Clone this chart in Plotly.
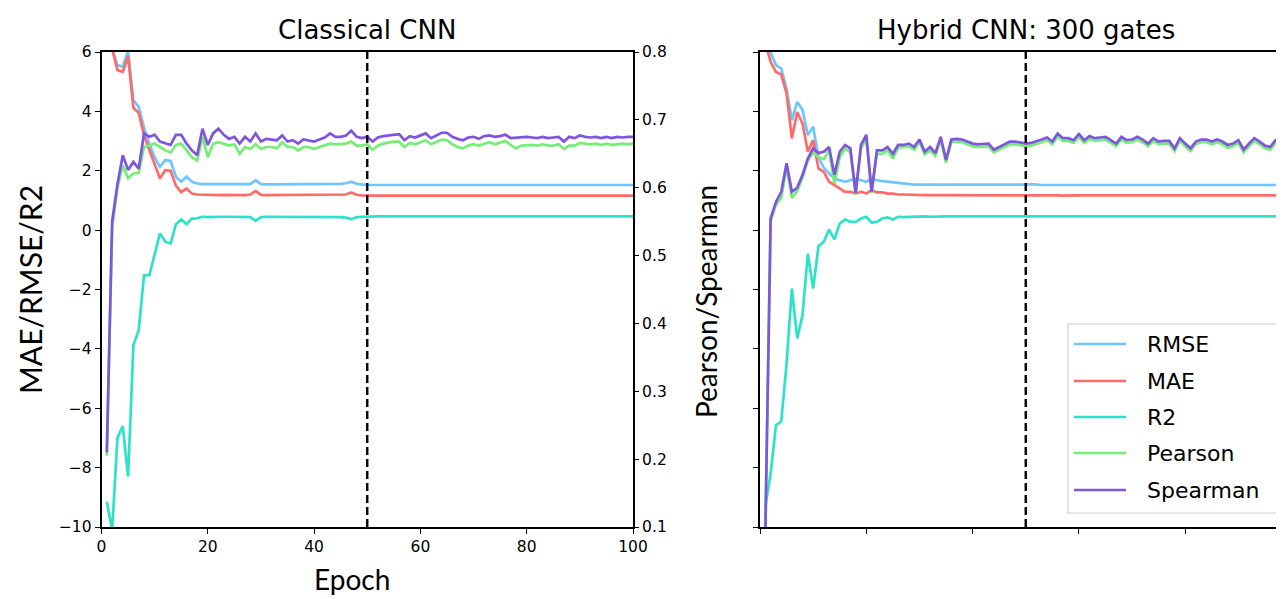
import plotly.graph_objects as go

# ---------------- data ----------------
EPOCHS = list(range(1, 101))
CHECKPOINT_EPOCH = 50
SERIES_NAMES = ["RMSE", "MAE", "R2", "Pearson", "Spearman"]
SERIES_COLORS = ["#6fc6ff", "#ff6b6b", "#2de2c8", "#74ee74", "#7f55e0"]
PANEL_TITLES = ["Classical CNN", "Hybrid CNN: 300 gates"]
LEFT_TICKS = [-10, -8, -6, -4, -2, 0, 2, 4, 6]
RIGHT_TICKS = [0.1, 0.2, 0.3, 0.4, 0.5, 0.6, 0.7, 0.8]
RIGHT_TICK_LABELS = ["0.1", "0.2", "0.3", "0.4", "0.5", "0.6", "0.7", "0.8"]
X_TICKS = [0, 20, 40, 60, 80, 100]

# Classical CNN
c_rmse = [7.2, 6.1, 5.56, 5.5, 6.05, 4.38, 4.15, 3.45, 2.9, 2.45,
          2.13, 2.36, 2.33, 1.8, 1.63, 1.8, 1.63, 1.57, 1.55, 1.55,
          1.54, 1.55, 1.54, 1.54, 1.54, 1.55, 1.54, 1.55, 1.68, 1.55,
          1.54, 1.54, 1.54, 1.55, 1.54, 1.54, 1.54, 1.55, 1.54, 1.54,
          1.54, 1.54, 1.54, 1.55, 1.56, 1.58, 1.63, 1.56, 1.53, 1.52,
          1.52, 1.52, 1.52, 1.53, 1.52, 1.52, 1.52, 1.53, 1.52, 1.52,
          1.52, 1.52, 1.53, 1.52, 1.52, 1.52, 1.52, 1.52, 1.53, 1.52,
          1.52, 1.52, 1.52, 1.52, 1.53, 1.52, 1.52, 1.52, 1.52, 1.52,
          1.53, 1.52, 1.52, 1.52, 1.52, 1.53, 1.52, 1.52, 1.52, 1.52,
          1.52, 1.52, 1.53, 1.52, 1.52, 1.52, 1.52, 1.52, 1.52, 1.52]
c_mae = [7.6, 6.1, 5.39, 5.33, 5.85, 4.12, 3.95, 3.2, 2.7, 2.2,
         1.74, 2.02, 2.0, 1.5, 1.28, 1.4, 1.23, 1.2, 1.19, 1.18,
         1.18, 1.18, 1.19, 1.18, 1.18, 1.18, 1.18, 1.2, 1.32, 1.19,
         1.18, 1.18, 1.18, 1.18, 1.18, 1.18, 1.18, 1.18, 1.18, 1.18,
         1.18, 1.18, 1.18, 1.18, 1.19, 1.2, 1.27, 1.19, 1.17, 1.16,
         1.16, 1.16, 1.16, 1.17, 1.16, 1.16, 1.16, 1.16, 1.17, 1.16,
         1.16, 1.16, 1.16, 1.16, 1.17, 1.16, 1.16, 1.16, 1.16, 1.16,
         1.17, 1.16, 1.16, 1.16, 1.16, 1.16, 1.17, 1.16, 1.16, 1.16,
         1.16, 1.16, 1.16, 1.17, 1.16, 1.16, 1.16, 1.16, 1.16, 1.16,
         1.17, 1.16, 1.16, 1.16, 1.16, 1.16, 1.16, 1.16, 1.16, 1.16]
c_r2 = [-9.15, -10.1, -7.0, -6.6, -8.3, -3.87, -3.37, -1.52, -1.52, -0.79,
        -0.11, -0.39, -0.45, 0.2, 0.36, 0.2, 0.39, 0.4, 0.45, 0.44,
        0.45, 0.46, 0.45, 0.45, 0.45, 0.46, 0.45, 0.44, 0.31, 0.44,
        0.45, 0.45, 0.46, 0.45, 0.45, 0.45, 0.45, 0.45, 0.46, 0.45,
        0.45, 0.45, 0.45, 0.45, 0.44, 0.42, 0.37, 0.44, 0.45, 0.46,
        0.46, 0.46, 0.46, 0.45, 0.46, 0.46, 0.46, 0.46, 0.45, 0.46,
        0.46, 0.46, 0.46, 0.46, 0.45, 0.46, 0.46, 0.46, 0.46, 0.46,
        0.45, 0.46, 0.46, 0.46, 0.46, 0.46, 0.45, 0.46, 0.46, 0.46,
        0.46, 0.46, 0.46, 0.45, 0.46, 0.46, 0.46, 0.46, 0.46, 0.46,
        0.45, 0.46, 0.46, 0.46, 0.46, 0.46, 0.46, 0.46, 0.46, 0.46]
c_pearson = [0.205, 0.54, 0.60, 0.633, 0.614, 0.621, 0.622, 0.66, 0.662, 0.665,
             0.66, 0.655, 0.652, 0.663, 0.665, 0.655, 0.645, 0.64, 0.675, 0.645,
             0.665, 0.667, 0.665, 0.662, 0.664, 0.65, 0.66, 0.657, 0.664, 0.657,
             0.66, 0.66, 0.658, 0.667, 0.66, 0.66, 0.655, 0.66, 0.66, 0.657,
             0.66, 0.662, 0.665, 0.664, 0.664, 0.665, 0.668, 0.662, 0.662, 0.664,
             0.656, 0.662, 0.665, 0.667, 0.668, 0.668, 0.66, 0.666, 0.664, 0.667,
             0.67, 0.664, 0.667, 0.671, 0.67, 0.664, 0.66, 0.658, 0.662, 0.664,
             0.662, 0.665, 0.667, 0.664, 0.666, 0.669, 0.663, 0.658, 0.662, 0.663,
             0.663, 0.662, 0.664, 0.662, 0.662, 0.664, 0.657, 0.662, 0.662, 0.666,
             0.665, 0.664, 0.665, 0.663, 0.665, 0.663, 0.664, 0.665, 0.664, 0.665]
c_spearman = [0.21, 0.55, 0.605, 0.648, 0.626, 0.638, 0.628, 0.68, 0.675, 0.678,
              0.668, 0.665, 0.663, 0.678, 0.678, 0.665, 0.655, 0.648, 0.687, 0.663,
              0.68, 0.687, 0.678, 0.672, 0.675, 0.665, 0.675, 0.668, 0.68, 0.668,
              0.672, 0.671, 0.67, 0.677, 0.668, 0.67, 0.665, 0.671, 0.67, 0.668,
              0.671, 0.674, 0.68, 0.675, 0.675, 0.677, 0.684, 0.675, 0.673, 0.675,
              0.668, 0.674, 0.676, 0.677, 0.679, 0.679, 0.67, 0.676, 0.674, 0.677,
              0.68, 0.673, 0.677, 0.681, 0.681, 0.675, 0.672, 0.67, 0.674, 0.675,
              0.672, 0.676, 0.677, 0.675, 0.676, 0.678, 0.673, 0.674, 0.674, 0.675,
              0.674, 0.673, 0.675, 0.673, 0.674, 0.675, 0.668, 0.675, 0.673, 0.677,
              0.675, 0.674, 0.675, 0.673, 0.675, 0.673, 0.675, 0.674, 0.675, 0.675]

# Hybrid CNN: 300 gates
h_rmse = [6.4, 6.0, 5.56, 5.44, 4.75, 3.7, 4.32, 4.05, 3.2, 3.48,
          2.45, 2.1, 1.9, 1.74, 1.68, 1.63, 1.68, 1.74, 1.68, 1.63,
          1.74, 1.68, 1.65, 1.63, 1.6, 1.58, 1.55, 1.54, 1.53, 1.53,
          1.53, 1.53, 1.52, 1.53, 1.53, 1.52, 1.53, 1.53, 1.52, 1.52,
          1.53, 1.52, 1.52, 1.52, 1.52, 1.52, 1.52, 1.52, 1.52, 1.53,
          1.55, 1.53, 1.52, 1.52, 1.52, 1.52, 1.52, 1.53, 1.52, 1.52,
          1.52, 1.52, 1.52, 1.53, 1.52, 1.52, 1.52, 1.52, 1.52, 1.52,
          1.53, 1.52, 1.52, 1.52, 1.52, 1.52, 1.53, 1.52, 1.52, 1.52,
          1.52, 1.52, 1.52, 1.53, 1.52, 1.52, 1.52, 1.52, 1.52, 1.52,
          1.52, 1.53, 1.52, 1.52, 1.52, 1.52, 1.52, 1.52, 1.52, 1.52]
h_mae = [6.3, 5.67, 5.33, 5.24, 4.6, 3.09, 3.98, 3.59, 2.64, 3.03,
         2.08, 1.96, 1.63, 1.52, 1.4, 1.29, 1.29, 1.23, 1.29, 1.23,
         1.35, 1.27, 1.27, 1.23, 1.23, 1.2, 1.2, 1.19, 1.19, 1.18,
         1.18, 1.18, 1.18, 1.18, 1.17, 1.18, 1.18, 1.17, 1.17, 1.18,
         1.17, 1.17, 1.17, 1.17, 1.17, 1.17, 1.17, 1.17, 1.17, 1.17,
         1.19, 1.18, 1.17, 1.17, 1.17, 1.17, 1.16, 1.17, 1.17, 1.17,
         1.17, 1.16, 1.17, 1.17, 1.17, 1.17, 1.17, 1.16, 1.17, 1.17,
         1.17, 1.17, 1.17, 1.17, 1.18, 1.17, 1.17, 1.17, 1.17, 1.17,
         1.17, 1.17, 1.16, 1.17, 1.17, 1.17, 1.17, 1.17, 1.17, 1.17,
         1.17, 1.17, 1.17, 1.17, 1.17, 1.17, 1.17, 1.17, 1.17, 1.17]
h_r2 = [-9.3, -8.2, -6.57, -6.45, -4.5, -1.97, -3.65, -2.86, -0.79, -1.97,
        -0.54, -0.39, 0.02, -0.31, 0.22, 0.36, 0.28, 0.28, 0.39, 0.45,
        0.25, 0.28, 0.39, 0.43, 0.36, 0.45, 0.44, 0.45, 0.45, 0.46,
        0.46, 0.45, 0.46, 0.45, 0.46, 0.46, 0.45, 0.46, 0.46, 0.46,
        0.46, 0.46, 0.46, 0.46, 0.46, 0.46, 0.46, 0.46, 0.46, 0.46,
        0.44, 0.45, 0.46, 0.46, 0.46, 0.46, 0.46, 0.46, 0.46, 0.46,
        0.46, 0.46, 0.46, 0.46, 0.46, 0.46, 0.46, 0.46, 0.46, 0.46,
        0.46, 0.46, 0.46, 0.46, 0.46, 0.46, 0.46, 0.46, 0.46, 0.46,
        0.46, 0.46, 0.46, 0.46, 0.46, 0.46, 0.46, 0.46, 0.46, 0.46,
        0.46, 0.46, 0.46, 0.46, 0.46, 0.46, 0.46, 0.46, 0.46, 0.46]
h_pearson = [0.095, 0.55, 0.575, 0.585, 0.63, 0.585, 0.595, 0.615, 0.64, 0.652,
             0.645, 0.642, 0.655, 0.606, 0.645, 0.658, 0.652, 0.59, 0.658, 0.672,
             0.592, 0.65, 0.65, 0.655, 0.643, 0.659, 0.66, 0.661, 0.656, 0.667,
             0.649, 0.655, 0.647, 0.671, 0.637, 0.667, 0.668, 0.667, 0.664, 0.661,
             0.66, 0.661, 0.661, 0.652, 0.656, 0.659, 0.664, 0.664, 0.663, 0.661,
             0.662, 0.664, 0.667, 0.67, 0.664, 0.676, 0.669, 0.669, 0.666, 0.675,
             0.666, 0.672, 0.669, 0.67, 0.671, 0.666, 0.661, 0.671, 0.666, 0.667,
             0.671, 0.667, 0.661, 0.669, 0.664, 0.665, 0.665, 0.654, 0.669, 0.661,
             0.654, 0.664, 0.667, 0.667, 0.664, 0.667, 0.664, 0.659, 0.661, 0.666,
             0.652, 0.661, 0.669, 0.664, 0.658, 0.656, 0.666, 0.667, 0.669, 0.669]
h_spearman = [0.09, 0.555, 0.579, 0.594, 0.636, 0.594, 0.60, 0.619, 0.643, 0.658,
              0.651, 0.653, 0.66, 0.619, 0.653, 0.663, 0.658, 0.592, 0.663, 0.678,
              0.594, 0.655, 0.655, 0.66, 0.65, 0.663, 0.663, 0.665, 0.66, 0.671,
              0.653, 0.66, 0.651, 0.675, 0.641, 0.671, 0.672, 0.671, 0.668, 0.665,
              0.664, 0.665, 0.665, 0.656, 0.66, 0.663, 0.668, 0.668, 0.667, 0.665,
              0.666, 0.668, 0.671, 0.674, 0.668, 0.68, 0.673, 0.673, 0.67, 0.679,
              0.67, 0.676, 0.673, 0.674, 0.675, 0.67, 0.665, 0.675, 0.67, 0.671,
              0.675, 0.671, 0.665, 0.673, 0.668, 0.669, 0.669, 0.658, 0.673, 0.665,
              0.658, 0.668, 0.671, 0.671, 0.668, 0.671, 0.668, 0.663, 0.665, 0.67,
              0.656, 0.665, 0.673, 0.668, 0.662, 0.66, 0.67, 0.671, 0.673, 0.673]

# ---------------- layout geometry (screen pixels) ----------------
PAGE_OFF = 8                      # default body margin of the html page
SCREEN_W, SCREEN_H = 1284, 599
W, H = SCREEN_W - PAGE_OFF, SCREEN_H - PAGE_OFF
TOP, BOTTOM = 52, 527             # plot area, screen pixels
L_X0, L_X1 = 101.5, 633.0
R_X0 = 760.0
R_XMAX = (SCREEN_W - R_X0) / ((L_X1 - L_X0) / 100.0)


def px_x(p):
    """screen x pixel -> paper fraction"""
    return (p - PAGE_OFF) / W


def px_y(p):
    """screen y pixel -> paper fraction of the plot area"""
    return (BOTTOM - p) / (BOTTOM - TOP)


FONT_TICK = dict(family="DejaVu Sans", size=15.5, color="black")
FONT_TITLE = dict(family="DejaVu Sans", size=26, color="black")
FONT_LEG = dict(family="DejaVu Sans", size=22, color="black")
LINE_W = 2.7

fig = go.Figure()

panels = [
    ("x", "y", "y2", [c_rmse, c_mae, c_r2], [c_pearson, c_spearman]),
    ("x2", "y3", "y4", [h_rmse, h_mae, h_r2], [h_pearson, h_spearman]),
]
for xa, ya, ya2, left_series, right_series in panels:
    for name, color, vals in zip(SERIES_NAMES[:3], SERIES_COLORS[:3], left_series):
        fig.add_trace(go.Scatter(x=EPOCHS, y=vals, mode="lines", name=name,
                                 line=dict(color=color, width=LINE_W),
                                 xaxis=xa, yaxis=ya, showlegend=False))
    for name, color, vals in zip(SERIES_NAMES[3:], SERIES_COLORS[3:], right_series):
        fig.add_trace(go.Scatter(x=EPOCHS, y=vals, mode="lines", name=name,
                                 line=dict(color=color, width=LINE_W),
                                 xaxis=xa, yaxis=ya2, showlegend=False))

axis_common = dict(showline=True, linecolor="black", linewidth=1.6, ticks="outside",
                   ticklen=5, tickwidth=1.4, tickcolor="black", showgrid=False,
                   zeroline=False, tickfont=FONT_TICK, automargin=False)

fig.update_layout(
    width=W, height=H,
    margin=dict(l=0, r=0, t=TOP - PAGE_OFF, b=SCREEN_H - BOTTOM, pad=0),
    paper_bgcolor="white", plot_bgcolor="white",
    showlegend=False,
    xaxis=dict(domain=[px_x(L_X0), px_x(L_X1)], range=[0, 100], tickvals=X_TICKS,
               mirror=True, anchor="y", **axis_common),
    yaxis=dict(domain=[0, 1], range=[-10, 6], tickvals=LEFT_TICKS, mirror=True,
               anchor="x", **axis_common),
    yaxis2=dict(range=[0.1, 0.8], tickvals=RIGHT_TICKS, ticktext=RIGHT_TICK_LABELS,
                overlaying="y", side="right", anchor="x",
                **{**axis_common, "showline": False}),
    xaxis2=dict(domain=[px_x(R_X0), 1.0], range=[0, R_XMAX], tickvals=X_TICKS,
                showticklabels=False, mirror=True, anchor="y3", **axis_common),
    yaxis3=dict(domain=[0, 1], range=[-10, 6], tickvals=LEFT_TICKS,
                showticklabels=False, anchor="x2", **axis_common),
    yaxis4=dict(range=[0.1, 0.8], overlaying="y3", side="right", anchor="x2",
                visible=False),
)

# checkpoint lines
for xref, yref in [("x", "y domain"), ("x2", "y3 domain")]:
    fig.add_shape(type="line", xref=xref, yref=yref, x0=CHECKPOINT_EPOCH,
                  x1=CHECKPOINT_EPOCH, y0=0, y1=1,
                  line=dict(color="black", width=2.4, dash="8px,4px"))

# titles
fig.add_annotation(text=PANEL_TITLES[0], xref="paper", yref="paper",
                   x=px_x((L_X0 + L_X1) / 2), y=px_y(30), showarrow=False,
                   xanchor="center", yanchor="middle", font=FONT_TITLE)
fig.add_annotation(text=PANEL_TITLES[1], xref="paper", yref="paper",
                   x=px_x(1026), y=px_y(30), showarrow=False,
                   xanchor="center", yanchor="middle", font=FONT_TITLE)

# axis labels
fig.add_annotation(text="MAE/RMSE/R2", xref="paper", yref="paper", x=px_x(30),
                   y=px_y(290), showarrow=False, textangle=-90,
                   xanchor="center", yanchor="middle",
                   font=dict(family="Lato", size=30, color="black"))
fig.add_annotation(text="Pearson/Spearman", xref="paper", yref="paper", x=px_x(706),
                   y=px_y(302), showarrow=False, textangle=-90,
                   xanchor="center", yanchor="middle",
                   font=dict(family="Lato", size=28, color="black"))
fig.add_annotation(text="Epoch", xref="paper", yref="paper", x=px_x(352),
                   y=px_y(579), showarrow=False,
                   xanchor="center", yanchor="middle",
                   font=dict(family="Lato", size=28, color="black"))

# legend (drawn manually to match the matplotlib layout)
LEG_X0, LEG_X1, LEG_Y0, LEG_Y1 = 1068, 1280, 324, 513
fig.add_shape(type="rect", xref="paper", yref="paper",
              x0=px_x(LEG_X0), x1=px_x(LEG_X1), y0=px_y(LEG_Y1), y1=px_y(LEG_Y0),
              line=dict(color="#d0d0d0", width=1.2), fillcolor="rgba(255,255,255,0.85)",
              layer="above")
row_y = [344, 381, 417, 453, 490]
for name, color, yy in zip(SERIES_NAMES, SERIES_COLORS, row_y):
    fig.add_shape(type="line", xref="paper", yref="paper",
                  x0=px_x(1074), x1=px_x(1126), y0=px_y(yy), y1=px_y(yy),
                  line=dict(color=color, width=LINE_W), layer="above")
    fig.add_annotation(text=name, xref="paper", yref="paper", x=px_x(1145),
                       y=px_y(yy), showarrow=False, xanchor="left",
                       yanchor="middle", font=FONT_LEG)

fig.write_html("out.html")
